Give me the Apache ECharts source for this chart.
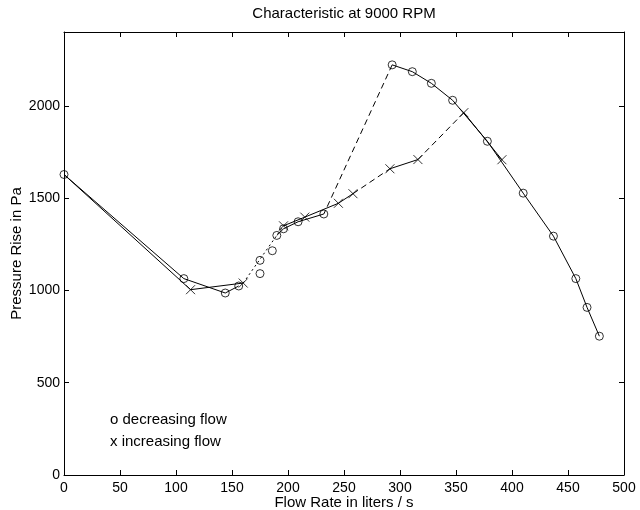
<!DOCTYPE html>
<html>
<head>
<meta charset="utf-8">
<script src="https://cdn.jsdelivr.net/npm/echarts@6/dist/echarts.min.js"></script>
<style>html,body{margin:0;padding:0;background:#fff}#c{width:640px;height:510px}</style>
</head>
<body>
<div id="c"></div>
<script>
// ---- data ----
const decFlow     = [478, 467, 457, 437, 410, 378, 347, 328, 311, 293, 232, 209, 196, 190, 186, 175, 175, 156, 144, 107, 0];
const decPressure = [752, 908, 1064, 1294, 1527, 1808, 2030, 2122, 2185, 2222, 1414, 1372, 1334, 1298, 1215, 1163, 1091, 1024, 986, 1064, 1628];
const incFlow     = [0, 113, 160, 196, 215, 245, 258, 291, 316, 357, 391];
const incPressure = [1628, 1004, 1040, 1350, 1397, 1472, 1524, 1659, 1709, 1963, 1708];
const xTickValues = [0, 50, 100, 150, 200, 250, 300, 350, 400, 450, 500];
const yTickValues = [0, 500, 1000, 1500, 2000];
const titleText = 'Characteristic at 9000 RPM';
const xName = 'Flow Rate in liters / s';
const yName = 'Pressure Rise in Pa';
const legendLines = ['o decreasing flow', 'x increasing flow'];

// segment line styles (index i = segment from point i to i+1): s solid, d dashed, o dotted, n none
const decSeg = ['s','s','s','s','s','s','s','s','s','d','s','s','s','n','n','n','n','s','s','s'];
const incSeg = ['s','s','o','s','s','s','d','s','d','s'];

const FONT = 'Liberation Sans, Arial, Helvetica, sans-serif';
const FS = 15;
const TFS = 14;
const chart = echarts.init(document.getElementById('c'), null, {renderer: 'canvas'});
const GRID = {left: 64, right: 16, top: 32, bottom: 35, containLabel: false, outerBoundsMode: 'none'};
const crossPath = 'path://M0,0L10,10M10,0L0,10';
const LINE_TYPES = {s: 'solid', d: [6, 4], o: [2, 3]};

function segSeries(xs, ys, segs) {
  const out = [];
  segs.forEach((s, i) => {
    if (s === 'n') return;
    out.push({
      type: 'line', silent: true, symbol: 'none', animation: false,
      data: [[xs[i], ys[i]], [xs[i + 1], ys[i + 1]]],
      lineStyle: {color: '#000', width: 1, type: LINE_TYPES[s]},
      z: 2
    });
  });
  return out;
}

const series = [].concat(
  segSeries(decFlow, decPressure, decSeg),
  segSeries(incFlow, incPressure, incSeg),
  [{
    type: 'scatter', symbol: 'circle', symbolSize: 8, animation: false,
    data: decFlow.map((x, i) => [x, decPressure[i]]),
    itemStyle: {color: 'rgba(0,0,0,0)', borderColor: '#000', borderWidth: 1}, z: 3
  }, {
    type: 'scatter', symbol: crossPath, symbolSize: 9, animation: false,
    // the shared start point is only drawn as a circle
    data: incFlow.map((x, i) => i === 0 ? {value: [x, incPressure[i]], symbol: 'none'} : [x, incPressure[i]]),
    itemStyle: {color: 'rgba(0,0,0,0)', borderColor: '#000', borderWidth: 1}, z: 3
  }]
);

const axisCommon = {
  axisLine: {show: true, onZero: false, lineStyle: {color: '#000', width: 1}},
  axisTick: {show: true, inside: true, length: 5, lineStyle: {color: '#000'}},
  splitLine: {show: false},
  nameMoveOverlap: false
};

chart.setOption({
  backgroundColor: '#fff',
  animation: false,
  grid: GRID,
  xAxis: [
    Object.assign({}, axisCommon, {
      type: 'value', min: xTickValues[0], max: xTickValues[xTickValues.length - 1], interval: 50,
      axisLabel: {color: '#000', fontSize: TFS, fontFamily: FONT, margin: 6, showMinLabel: true, showMaxLabel: true},
      name: xName, nameLocation: 'middle', nameGap: 20,
      nameTextStyle: {color: '#000', fontSize: FS, fontFamily: FONT}
    }),
    Object.assign({}, axisCommon, {
      type: 'value', position: 'top', min: 0, max: 500, interval: 50,
      axisLabel: {show: false}
    })
  ],
  yAxis: [
    Object.assign({}, axisCommon, {
      type: 'value', min: 0, max: 2400, interval: 500,
      axisLabel: {color: '#000', fontSize: TFS, fontFamily: FONT, margin: 4, showMaxLabel: false,
        formatter: v => yTickValues.indexOf(v) >= 0 ? String(v) : ''},
      name: yName, nameLocation: 'middle', nameGap: 40,
      nameTextStyle: {color: '#000', fontSize: FS, fontFamily: FONT}
    }),
    Object.assign({}, axisCommon, {
      type: 'value', position: 'right', min: 0, max: 2400, interval: 500,
      axisLabel: {show: false}
    })
  ],
  graphic: [
    {type: 'text', x: 344, y: 14, style: {text: titleText, fill: '#000', font: FS + 'px ' + FONT, textAlign: 'center', textVerticalAlign: 'middle'}},
    {type: 'text', x: 110, y: 420, style: {text: legendLines[0], fill: '#000', font: FS + 'px ' + FONT, textVerticalAlign: 'middle'}},
    {type: 'text', x: 110, y: 442, style: {text: legendLines[1], fill: '#000', font: FS + 'px ' + FONT, textVerticalAlign: 'middle'}}
  ],
  series: series
});
</script>
</body>
</html>
